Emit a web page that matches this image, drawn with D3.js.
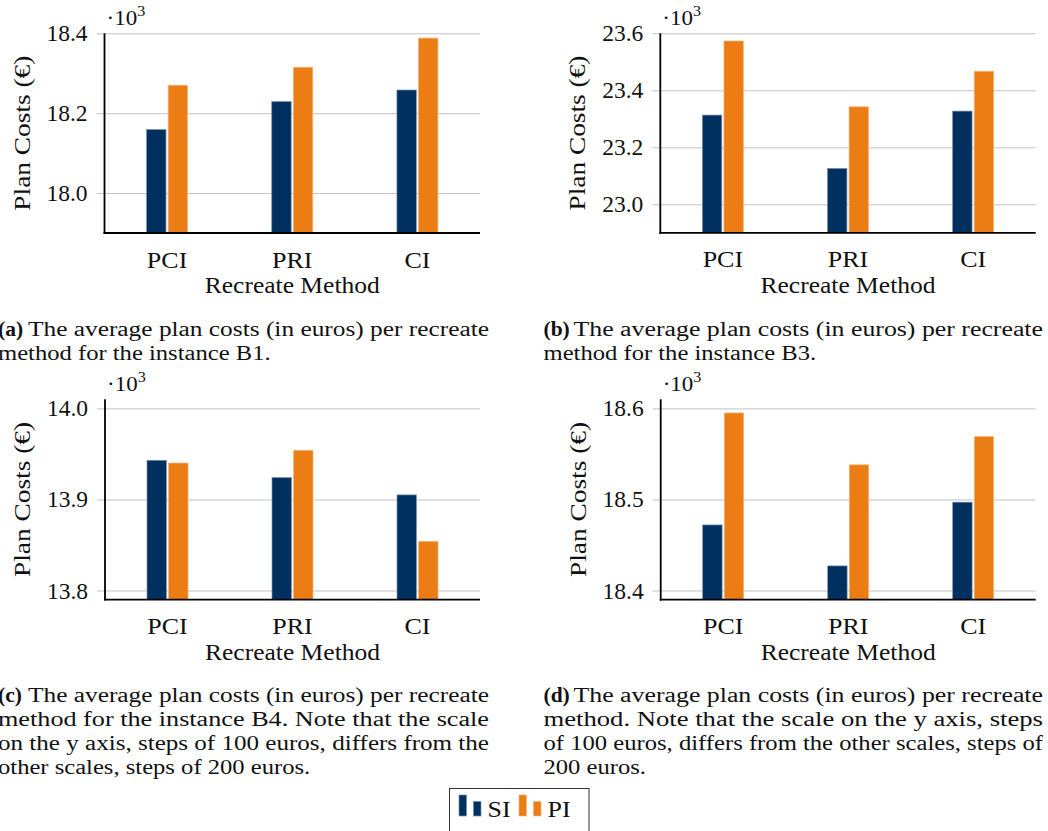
<!DOCTYPE html>
<html>
<head>
<meta charset="utf-8">
<script src="https://cdn.jsdelivr.net/npm/d3@7"></script>
<style>
  html, body { margin: 0; padding: 0; background: #fff; }
  svg { display: block; font-family: "Liberation Serif", "Times New Roman", serif; }
</style>
</head>
<body>
<svg id="chart" width="1048" height="831"></svg>
<script>
// Recreate methods on the x axis, and the two insertion strategies
const methods = ["PCI", "PRI", "CI"];
const seriesNames = ["SI", "PI"];

// Average plan costs (euros) per recreate method
const costsB1_SI = [18159, 18229, 18258];
const costsB1_PI = [18270, 18315, 18388];
const costsB3_SI = [23313, 23126, 23327];
const costsB3_PI = [23573, 23342, 23467];
const costsB4_SI = [13943, 13924, 13905];
const costsB4_PI = [13940, 13954, 13854];
const costsD_SI  = [18472, 18427, 18497];
const costsD_PI  = [18595, 18538, 18569];

// y axis ranges and tick values (euros)
const domainB1 = [17900, 18400];
const domainB3 = [22900, 23600];
const domainB4 = [13790, 14010];
const domainD  = [18390, 18610];
const ticksB1 = [18000, 18200, 18400];
const ticksB3 = [23000, 23200, 23400, 23600];
const ticksB4 = [13800, 13900, 14000];
const ticksD  = [18400, 18500, 18600];

// Sub-figure captions
const captionA = ["The average plan costs (in euros) per recreate", "method for the instance B1."];
const captionB = ["The average plan costs (in euros) per recreate", "method for the instance B3."];
const captionC = ["The average plan costs (in euros) per recreate",
                  "method for the instance B4.  Note that the scale",
                  "on the y axis, steps of 100 euros, differs from the",
                  "other scales, steps of 200 euros."];
const captionD = ["The average plan costs (in euros) per recreate",
                  "method.  Note that the scale on the y axis, steps",
                  "of 100 euros, differs from the other scales, steps of",
                  "200 euros."];

const colors = { SI: "#00305f", PI: "#ec7d14" };
const edges  = { SI: "#7a90ad", PI: "#f6b47a" };

const svg = d3.select("#chart");

function fit(sel, w) {
  sel.attr("textLength", w).attr("lengthAdjust", "spacingAndGlyphs");
}
function widen(sel, k) {
  sel.each(function () {
    const n = this.getComputedTextLength();
    d3.select(this).attr("textLength", n * k).attr("lengthAdjust", "spacingAndGlyphs");
  });
}

function drawPanel(cfg) {
  const g = svg.append("g");
  const x = d3.scaleBand().domain(methods).range([cfg.left, cfg.right]).padding(0);
  const y = d3.scaleLinear().domain(cfg.domain).range([cfg.bottom, cfg.top]);
  const sub = d3.scaleBand().domain(seriesNames).range([-20.5, 20.5]).paddingInner(0.1);

  // horizontal grid
  g.append("g")
    .attr("transform", `translate(${cfg.left},0)`)
    .call(d3.axisLeft(y).tickValues(cfg.ticks).tickSize(-(cfg.right - cfg.left)).tickFormat(""))
    .call(a => a.select(".domain").remove())
    .call(a => a.selectAll("line").attr("stroke", "#c3c3c3").attr("stroke-width", 1));

  // bars
  const rows = methods.map((m, i) => ({ m, SI: cfg.si[i], PI: cfg.pi[i] }));
  const grp = g.append("g").selectAll("g").data(rows).join("g")
    .attr("transform", d => `translate(${x(d.m) + x.bandwidth() / 2},0)`);
  grp.selectAll("rect").data(d => seriesNames.map(s => ({ s, v: d[s] }))).join("rect")
    .attr("x", d => sub(d.s))
    .attr("width", sub.bandwidth())
    .attr("y", d => y(d.v))
    .attr("height", d => y(cfg.domain[0]) - y(d.v))
    .attr("fill", d => colors[d.s])
    .attr("stroke", d => edges[d.s])
    .attr("stroke-width", 0.7);

  // y axis ticks and labels
  g.append("g")
    .attr("transform", `translate(${cfg.left},0)`)
    .call(d3.axisLeft(y).tickValues(cfg.ticks).tickSize(8).tickPadding(9)
      .tickFormat(v => (v / 1000).toFixed(1)))
    .call(a => a.select(".domain").remove())
    .call(a => a.selectAll("line").attr("stroke", "#c3c3c3").attr("stroke-width", 1))
    .call(a => a.selectAll("text")
      .attr("font-family", "Liberation Serif, serif")
      .attr("font-size", 23.5).attr("fill", "#111"));

  // x axis labels
  g.append("g")
    .attr("transform", `translate(0,${cfg.bottom})`)
    .call(d3.axisBottom(x).tickSize(0))
    .call(a => a.select(".domain").remove())
    .call(a => a.selectAll("text")
      .attr("font-family", "Liberation Serif, serif")
      .attr("font-size", 23).attr("fill", "#111")
      .attr("y", 34.5).attr("dy", 0)
      .call(widen, 1.13));

  // axis lines
  g.append("line").attr("x1", cfg.left).attr("x2", cfg.left)
    .attr("y1", cfg.top).attr("y2", cfg.bottom + 1)
    .attr("stroke", "#000").attr("stroke-width", 1.8);
  g.append("line").attr("x1", cfg.left - 0.9).attr("x2", cfg.right)
    .attr("y1", cfg.bottom).attr("y2", cfg.bottom)
    .attr("stroke", "#000").attr("stroke-width", 1.8);

  // axis titles
  g.append("text")
    .attr("x", (cfg.left + cfg.right) / 2).attr("y", cfg.bottom + 60.3)
    .attr("text-anchor", "middle").attr("font-size", 23).attr("fill", "#111")
    .text("Recreate Method").call(fit, 175);
  g.append("text")
    .attr("transform", `translate(${cfg.left - 75},${(cfg.top + cfg.bottom) / 2}) rotate(-90)`)
    .attr("text-anchor", "middle").attr("font-size", 23).attr("fill", "#111")
    .text("Plan Costs (€)").call(fit, 155);

  // scale factor label
  const sf = g.append("text")
    .attr("x", cfg.left + 2).attr("y", cfg.top - 8)
    .attr("font-size", 20).attr("fill", "#111");
  sf.append("tspan").text("·10");
  sf.append("tspan").attr("font-size", 14).attr("dy", -9).text("3");
  widen(sf, 1.15);
}

function drawCaption(cfg) {
  const g = svg.append("g").attr("fill", "#111").attr("font-size", 20.5);
  const lh = 24;
  cfg.lines.forEach((line, i) => {
    const yy = cfg.y + i * lh;
    if (i === 0) {
      g.append("text").attr("x", cfg.x0).attr("y", yy)
        .attr("font-weight", "bold").attr("font-size", 21.5).text(cfg.label);
      g.append("text").attr("x", cfg.x0 + 30).attr("y", yy).text(line)
        .call(fit, cfg.x1 - cfg.x0 - 30);
    } else if (i < cfg.lines.length - 1) {
      g.append("text").attr("x", cfg.x0).attr("y", yy).text(line)
        .call(fit, cfg.x1 - cfg.x0);
    } else {
      g.append("text").attr("x", cfg.x0).attr("y", yy).text(line)
        .call(widen, 1.2);
    }
  });
}

drawPanel({ left: 104.5, right: 480, top: 33.3, bottom: 233, domain: domainB1, ticks: ticksB1, si: costsB1_SI, pi: costsB1_PI });
drawPanel({ left: 660.3, right: 1035.7, top: 33.3, bottom: 232.8, domain: domainB3, ticks: ticksB3, si: costsB3_SI, pi: costsB3_PI });
drawPanel({ left: 105, right: 480, top: 399.3, bottom: 599.6, domain: domainB4, ticks: ticksB4, si: costsB4_SI, pi: costsB4_PI });
drawPanel({ left: 660.7, right: 1035.7, top: 399.3, bottom: 599.6, domain: domainD, ticks: ticksD, si: costsD_SI, pi: costsD_PI });

drawCaption({ label: "(a)", lines: captionA, x0: -2, x1: 489, y: 336 });
drawCaption({ label: "(b)", lines: captionB, x0: 543.5, x1: 1043, y: 336 });
drawCaption({ label: "(c)", lines: captionC, x0: -2, x1: 489, y: 702 });
drawCaption({ label: "(d)", lines: captionD, x0: 543.5, x1: 1043, y: 702 });

// legend
const legend = svg.append("g");
legend.append("rect").attr("x", 449.5).attr("y", 788.5).attr("width", 139.5).attr("height", 60)
  .attr("fill", "#fff").attr("stroke", "#333").attr("stroke-width", 1);
const legendX = d3.scaleOrdinal().domain(seriesNames).range([459, 519]);
const iconBars = [{ dx: 0, h: 21 }, { dx: 14.5, h: 14.5 }];
seriesNames.forEach(s => {
  const x0 = legendX(s);
  iconBars.forEach(b => {
    legend.append("rect").attr("x", x0 + b.dx).attr("y", 816 - b.h)
      .attr("width", 7.5).attr("height", b.h)
      .attr("fill", colors[s]).attr("stroke", edges[s]).attr("stroke-width", 0.7);
  });
  legend.append("text").attr("x", x0 + 28.5).attr("y", 816.5)
    .attr("font-size", 23).attr("fill", "#111").text(s).call(widen, 1.13);
});
</script>
</body>
</html>
